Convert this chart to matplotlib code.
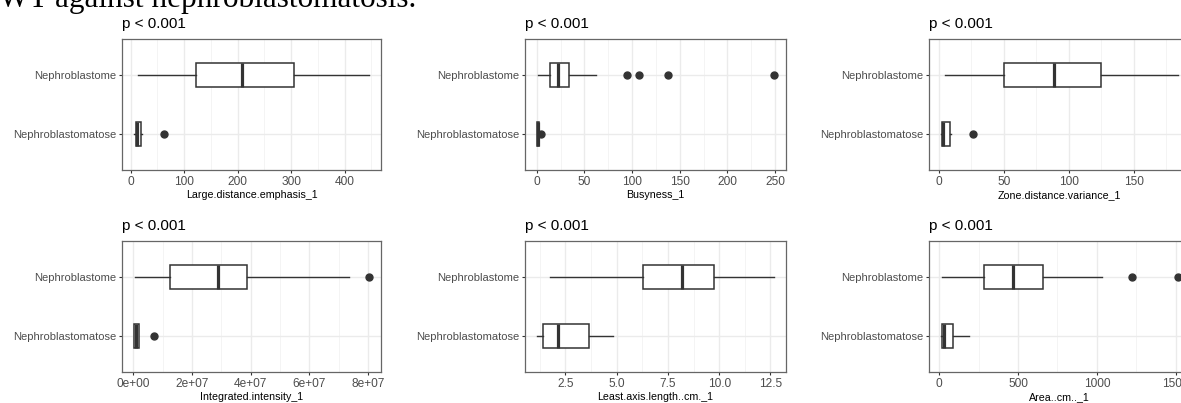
import matplotlib
matplotlib.use("Agg")
import matplotlib.pyplot as plt

plt.rcParams['font.family'] = ['Liberation Sans', 'DejaVu Sans']

# categories, bottom to top
groups = ["Nephroblastomatose", "Nephroblastome"]

# box stats per panel: [whislo, q1, med, q3, whishi] and outliers
lde_matose = [6, 9.3, 12, 19.3, 21.7]
lde_matose_out = [62]
lde_blastome = [13.7, 122, 209, 306, 446]
lde_blastome_out = []

busy_matose = [0.1, 0.3, 1.0, 2.0, 2.5]
busy_matose_out = [4.2]
busy_blastome = [1, 13.7, 21.8, 34, 62]
busy_blastome_out = [95, 107, 138, 249]

zdv_matose = [1.8, 2.6, 3.8, 8.7, 9.2]
zdv_matose_out = [26.5]
zdv_blastome = [4.6, 50, 89, 125, 184]
zdv_blastome_out = []

ii_matose = [0.02e7, 0.03e7, 0.08e7, 0.19e7, 0.2e7]
ii_matose_out = [0.71e7]
ii_blastome = [0.07e7, 1.26e7, 2.9e7, 3.87e7, 7.36e7]
ii_blastome_out = [8.04e7]

lal_matose = [1.11, 1.41, 2.14, 3.67, 4.8]
lal_matose_out = []
lal_blastome = [1.77, 6.28, 8.18, 9.76, 12.68]
lal_blastome_out = []

area_matose = [10, 15, 30, 84, 190]
area_matose_out = []
area_blastome = [17, 283, 467, 659, 1035]
area_blastome_out = [1225, 1516]

panels = [
    ("Large.distance.emphasis_1", lde_matose, lde_matose_out, lde_blastome, lde_blastome_out,
     [0, 100, 200, 300, 400], ["0", "100", "200", "300", "400"], [50, 150, 250, 350, 450]),
    ("Busyness_1", busy_matose, busy_matose_out, busy_blastome, busy_blastome_out,
     [0, 50, 100, 150, 200, 250], ["0", "50", "100", "150", "200", "250"], [25, 75, 125, 175, 225]),
    ("Zone.distance.variance_1", zdv_matose, zdv_matose_out, zdv_blastome, zdv_blastome_out,
     [0, 50, 100, 150], ["0", "50", "100", "150"], [25, 75, 125, 175]),
    ("Integrated.intensity_1", ii_matose, ii_matose_out, ii_blastome, ii_blastome_out,
     [0, 2e7, 4e7, 6e7, 8e7], ["0e+00", "2e+07", "4e+07", "6e+07", "8e+07"], [1e7, 3e7, 5e7, 7e7]),
    ("Least.axis.length..cm._1", lal_matose, lal_matose_out, lal_blastome, lal_blastome_out,
     [2.5, 5.0, 7.5, 10.0, 12.5], ["2.5", "5.0", "7.5", "10.0", "12.5"], [1.25, 3.75, 6.25, 8.75, 11.25]),
    ("Area..cm.._1", area_matose, area_matose_out, area_blastome, area_blastome_out,
     [0, 500, 1000, 1500], ["0", "500", "1000", "1500"], [250, 750, 1250]),
]

W, H = 1181, 403
fig = plt.figure(figsize=(W / 100, H / 100), dpi=100)

col_left = [122, 525, 929]
col_width = [259, 261, 261]
row_top = [39, 241]
ax_h = 131

fig.text(-1 / W, 1 - 7.5 / H, "WT against nephroblastomatosis.", family="Liberation Serif",
         fontsize=22.5, va="baseline", ha="left", color="black")


def make_stats(s, out):
    return dict(whislo=s[0], q1=s[1], med=s[2], q3=s[3], whishi=s[4], fliers=out)


ink = "#333333"
for i, (label, m, m_out, b, b_out, ticks, tick_labels, minors) in enumerate(panels):
    r, c = divmod(i, 3)
    ax = fig.add_axes([col_left[c] / W, 1 - (row_top[r] + ax_h) / H, col_width[c] / W, ax_h / H])
    stats = [make_stats(m, m_out), make_stats(b, b_out)]
    ax.bxp(stats, positions=[1, 2], widths=0.4, orientation="horizontal", showcaps=False,
           patch_artist=True,
           boxprops=dict(facecolor="white", edgecolor=ink, linewidth=1.1),
           whiskerprops=dict(color=ink, linewidth=1.0),
           medianprops=dict(color=ink, linewidth=2.3, solid_capstyle="butt"),
           flierprops=dict(marker="o", markerfacecolor=ink, markeredgecolor=ink, markersize=5),
           zorder=3)

    vals = m + m_out + b + b_out
    lo, hi = min(vals), max(vals)
    pad = 0.05 * (hi - lo)
    ax.set_xticks(ticks)
    ax.set_xticklabels(tick_labels)
    ax.set_xticks(minors, minor=True)
    ax.set_xlim(lo - pad, hi + pad)
    ax.set_ylim(0.4, 2.6)
    ax.set_yticks([1, 2])
    ax.set_yticklabels(groups)

    ax.grid(True, which="major", color="#EBEBEB", linewidth=1.0, zorder=0)
    ax.grid(True, which="minor", axis="x", color="#F2F2F2", linewidth=0.6, zorder=0)
    ax.set_axisbelow(True)
    for sp in ax.spines.values():
        sp.set_color("#666666")
        sp.set_linewidth(0.9)
    ax.tick_params(axis="x", which="major", length=2.5, width=0.8, color=ink,
                   labelsize=8.6, labelcolor="#4D4D4D", pad=1.5)
    ax.tick_params(axis="y", which="major", length=2.5, width=0.8, color=ink,
                   labelsize=8, labelcolor="#4D4D4D", pad=1.5)
    ax.tick_params(which="minor", length=0)
    ax.set_xlabel(label, fontsize=7.7, color="black", labelpad=1.5)
    ax.set_title("p < 0.001", loc="left", fontsize=11, pad=8, color="black")

fig.savefig("out.png", dpi=100)
